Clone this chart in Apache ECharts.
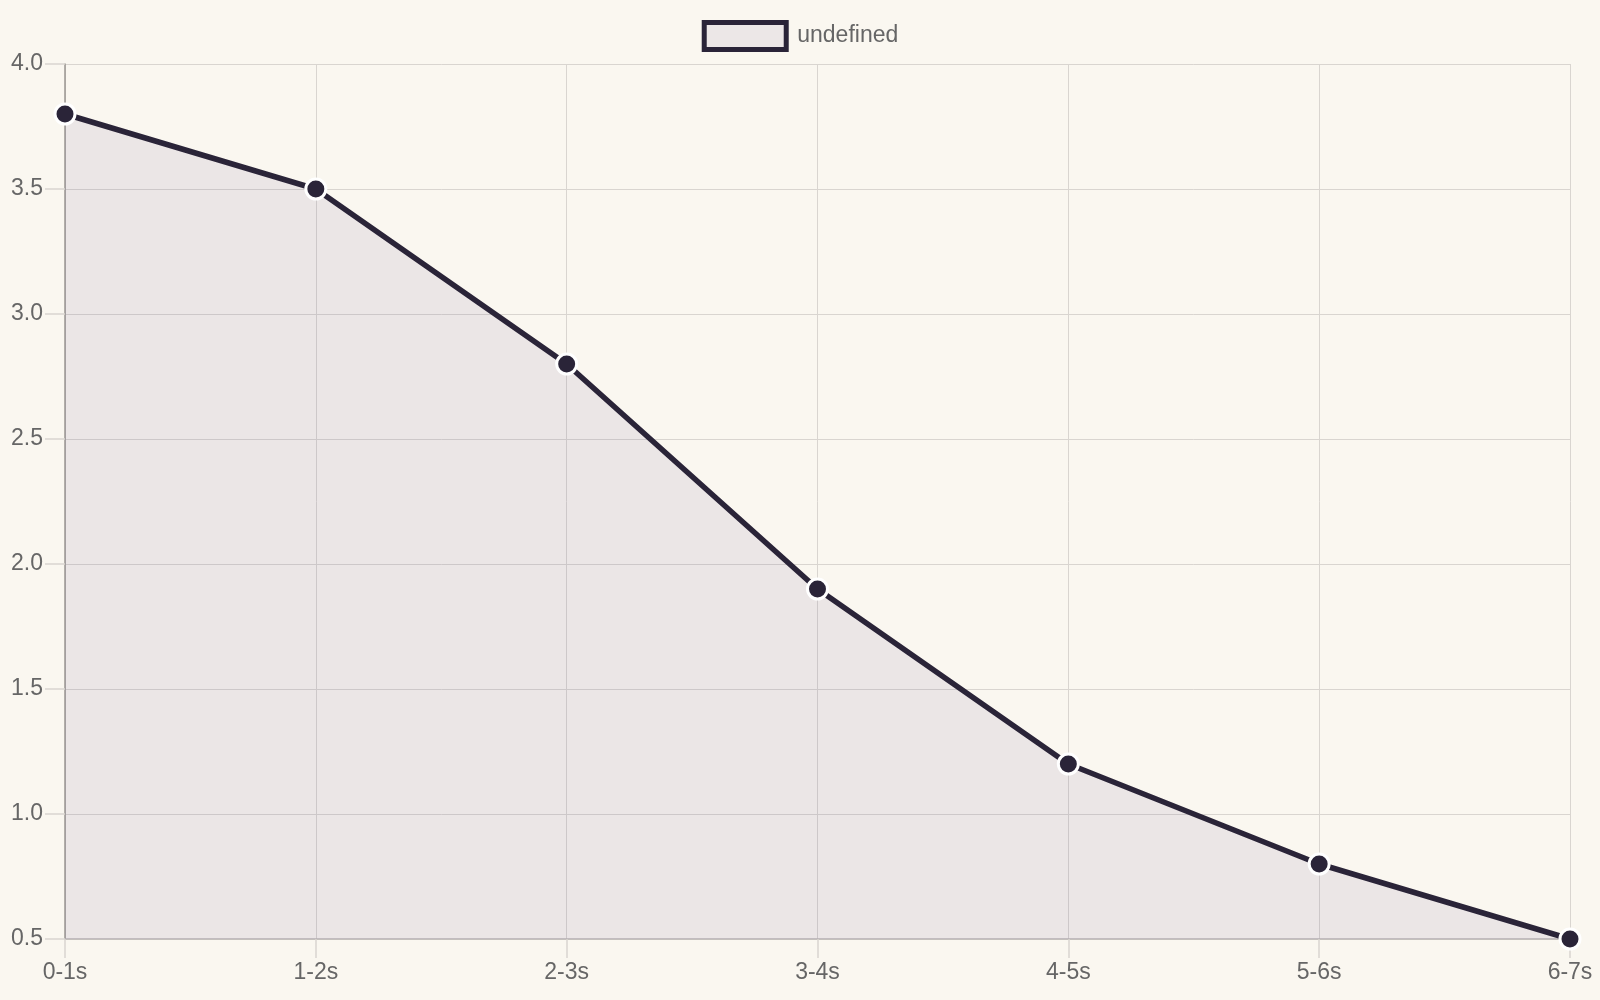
<!DOCTYPE html>
<html>
<head>
<meta charset="utf-8">
<script src="https://cdn.jsdelivr.net/npm/echarts@6/dist/echarts.min.js"></script>
<style>
html,body{margin:0;padding:0;background:#faf7f0;}
#chart{width:1600px;height:1000px;}
</style>
</head>
<body>
<div id="chart"></div>
<script>
const categories = ['0-1s','1-2s','2-3s','3-4s','4-5s','5-6s','6-7s'];
const values = [3.8, 3.5, 2.8, 1.9, 1.2, 0.8, 0.5];
const seriesName = 'undefined';
const yTicks = { min: 0.5, max: 4.0, interval: 0.5 };

const lineColor = '#2a2438';
const fillColor = 'rgba(110,87,150,0.1)';
const legendFill = '#ece7e7';
const gridColor = '#d9d5d0';
const chart = echarts.init(document.getElementById('chart'));
chart.setOption({
  backgroundColor: '#faf7f0',
  animation: false,
  textStyle: { fontFamily: 'Liberation Sans, Arial, sans-serif' },
  legend: {
    top: 15,
    left: 'center',
    itemWidth: 82,
    itemHeight: 27,
    itemGap: 10,
    icon: 'rect',
    textStyle: { fontSize: 23, color: '#666', padding: [0, 0, 0, 6] },
    data: [{ name: seriesName, icon: 'rect', itemStyle: { color: legendFill, borderColor: lineColor, borderWidth: 5 } }]
  },
  grid: { left: 65, right: 30, top: 64, bottom: 61, containLabel: false },
  xAxis: {
    type: 'category',
    data: categories,
    boundaryGap: false,
    axisLine: { show: true, lineStyle: { color: '#bdb9b5', width: 1.5 } },
    axisTick: { show: true, alignWithLabel: true, length: 19, lineStyle: { color: gridColor, width: 1.5 } },
    splitLine: { show: true, lineStyle: { color: gridColor, width: 1 } },
    axisLabel: { color: '#666', fontSize: 23, margin: 22 }
  },
  yAxis: {
    type: 'value',
    min: yTicks.min,
    max: yTicks.max,
    interval: yTicks.interval,
    axisLine: { show: true, lineStyle: { color: '#9a9692', width: 1.5 } },
    axisTick: { show: true, length: 20, lineStyle: { color: gridColor, width: 1.5 } },
    splitLine: { show: true, lineStyle: { color: gridColor, width: 1 } },
    axisLabel: { color: '#666', fontSize: 23, margin: 22, formatter: v => v.toFixed(1) }
  },
  series: [{
    name: seriesName,
    type: 'line',
    data: values,
    lineStyle: { color: lineColor, width: 5.5 },
    itemStyle: { color: lineColor, borderColor: '#ffffff', borderWidth: 3 },
    areaStyle: { color: fillColor, origin: 'start', opacity: 1 },
    symbol: 'circle',
    symbolSize: 20,
    showSymbol: true
  }]
});
</script>
</body>
</html>
